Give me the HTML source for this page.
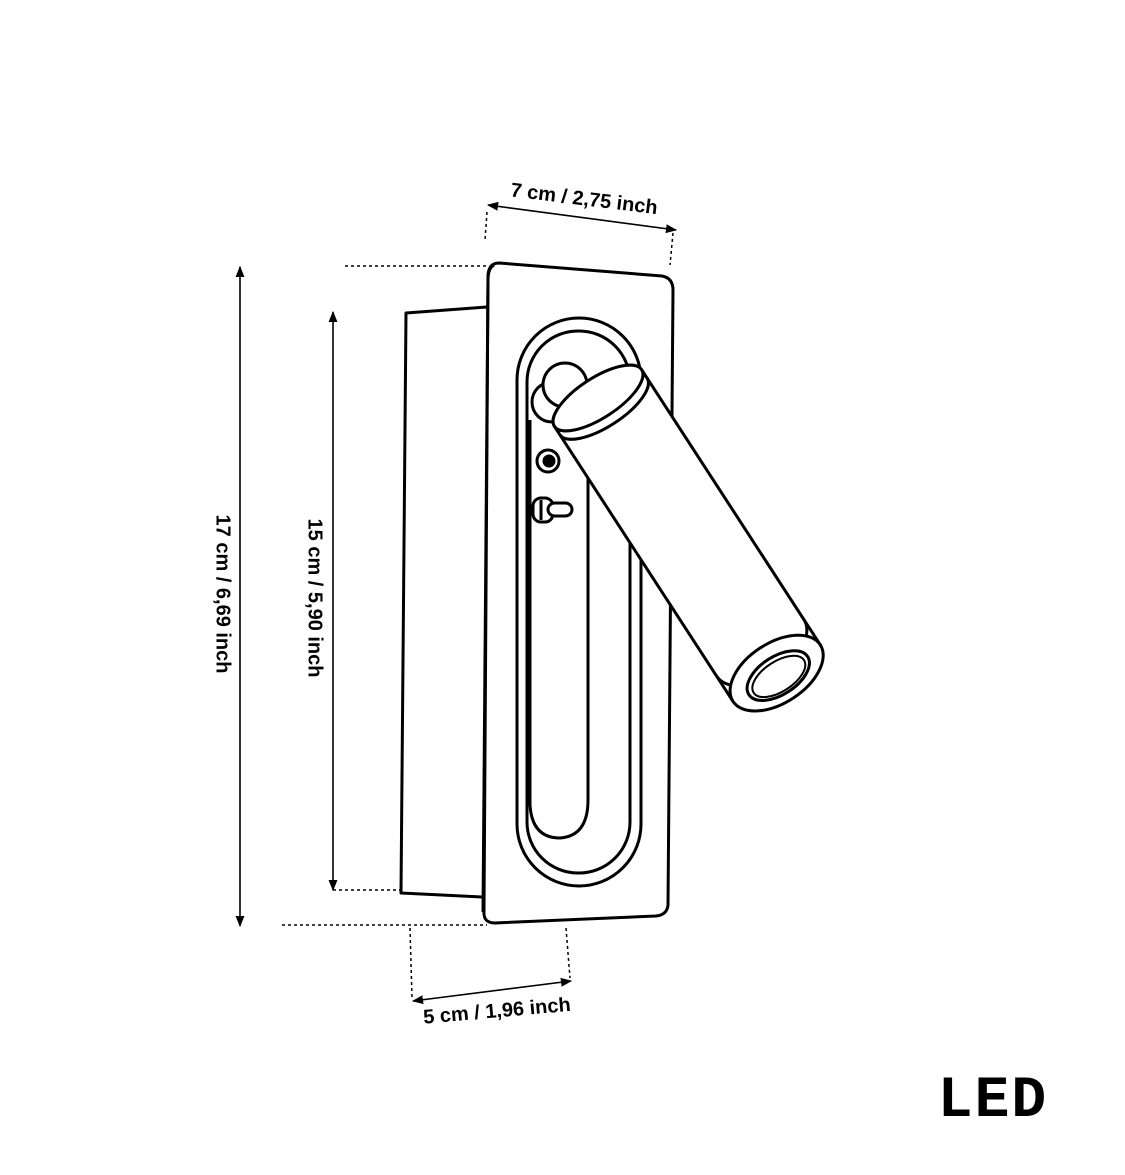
<!DOCTYPE html>
<html><head><meta charset="utf-8"><style>
html,body{margin:0;padding:0;background:#fff;}
svg{display:block;}
text{font-family:"Liberation Sans",sans-serif;font-weight:bold;font-size:20px;fill:#000;}
</style></head><body>
<svg width="1125" height="1175" viewBox="0 0 1125 1175" xmlns="http://www.w3.org/2000/svg">
<defs>
<marker id="a" viewBox="0 0 10 10" refX="9" refY="5" markerWidth="7" markerHeight="7" orient="auto-start-reverse"><path d="M0,1 L10,5 L0,9 z" fill="#000"/></marker>
</defs>
<g stroke="#000" stroke-width="1.6" fill="none">
<line x1="240" y1="267" x2="240" y2="926" marker-start="url(#a)" marker-end="url(#a)"/>
<line x1="333" y1="312" x2="333" y2="890" marker-start="url(#a)" marker-end="url(#a)"/>
<line x1="488" y1="205" x2="676" y2="230" marker-start="url(#a)" marker-end="url(#a)"/>
<line x1="413" y1="1001" x2="571" y2="981" marker-start="url(#a)" marker-end="url(#a)"/>
</g>
<g stroke="#000" stroke-width="1.5" stroke-dasharray="3 3" fill="none">
<line x1="345" y1="266" x2="487" y2="266"/>
<line x1="282" y1="925" x2="487" y2="925"/>
<line x1="333" y1="890" x2="400" y2="890"/>
<line x1="487" y1="212" x2="485" y2="240"/>
<line x1="673" y1="233" x2="670" y2="265"/>
<line x1="410" y1="928" x2="412" y2="998"/>
<line x1="566" y1="928" x2="570" y2="978"/>
</g>
<text transform="translate(222,594) rotate(90)" text-anchor="middle" dominant-baseline="middle">17 cm / 6,69 inch</text>
<text transform="translate(314,598) rotate(90)" text-anchor="middle" dominant-baseline="middle">15 cm / 5,90 inch</text>
<text transform="translate(584,200) rotate(7)" text-anchor="middle" dominant-baseline="middle">7 cm / 2,75 inch</text>
<text transform="translate(497,1012) rotate(-5)" text-anchor="middle" dominant-baseline="middle">5 cm / 1,96 inch</text>

<g stroke="#000" stroke-width="3" fill="#fff" stroke-linejoin="round">
<path d="M487,307 L406,313 L401,893 L482,897"/>
<path d="M499,263 L662,276 Q673,278 673,290 L668,905 Q667,915 656,916 L495,923 Q483,923 484,911 L488,275 Q489,263 499,263 Z"/>
<path d="M494,265 Q488,268 488,280 L483,912" fill="none"/>
<rect x="517" y="318" width="124" height="568" rx="62" ry="62"/>
<rect x="527" y="331" width="103" height="542" rx="51" ry="51"/>
<path d="M530,420 L530,805 Q532,838 560,838 Q588,836 588,800 L588,420" />
<circle cx="552" cy="402" r="20"/>
<circle cx="565" cy="385" r="22"/>
<circle cx="548" cy="461" r="11"/>
<circle cx="549" cy="461" r="5" fill="#000"/>
<rect x="533" y="498" width="20" height="24" rx="8"/>
<rect x="548" y="503" width="24" height="13" rx="6.5"/>
<line x1="541" y1="500" x2="541" y2="520"/>
<g transform="translate(598,398) rotate(-33)">
<path d="M-52,0 L-52,328 L52,328 L52,0 Z"/>
<ellipse cx="0" cy="0" rx="52" ry="20"/>
<path d="M-52,10 A52,20 0 0 0 52,10" fill="none"/>
<path d="M-52,298 A52,30 0 0 0 52,298" fill="none"/>
<ellipse cx="0" cy="328" rx="52" ry="30"/>
<ellipse cx="0" cy="331" rx="35" ry="19"/>
<ellipse cx="0" cy="332" rx="30" ry="15" stroke-width="2"/>
</g>
</g>
<text x="993" y="1116" text-anchor="middle" style="font-family:'Liberation Mono',monospace;font-size:58px;font-weight:bold;letter-spacing:2px">LED</text>
</svg>
</body></html>
